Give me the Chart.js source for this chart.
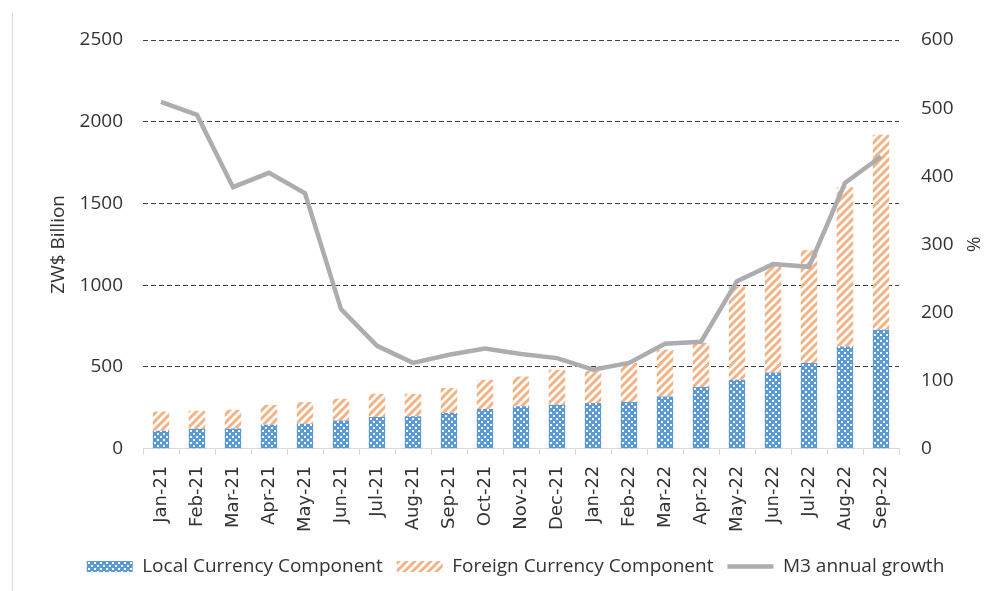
<!DOCTYPE html>
<html>
<head>
<meta charset="utf-8">
<script src="https://cdn.jsdelivr.net/npm/chart.js@4"></script>
<style>
  html, body { margin: 0; padding: 0; background: #fff; }
  #wrap { width: 1007px; height: 591px; position: relative; }
</style>
</head>
<body>
<div id="wrap"><canvas id="grafico"></canvas></div>
<script>
const meses = ['Jan-21', 'Feb-21', 'Mar-21', 'Apr-21', 'May-21', 'Jun-21', 'Jul-21', 'Aug-21', 'Sep-21', 'Oct-21', 'Nov-21', 'Dec-21',
  'Jan-22', 'Feb-22', 'Mar-22', 'Apr-22', 'May-22', 'Jun-22', 'Jul-22', 'Aug-22', 'Sep-22'];
const localCurrency = [110, 122, 124, 147, 153, 173, 194, 198, 218, 243, 259, 269, 279, 285, 320, 377, 422, 466, 524, 625, 727];
const foreignCurrency = [118, 110, 114, 120, 132, 133, 142, 138, 153, 179, 183, 214, 199, 239, 285, 269, 570, 659, 692, 975, 1193];
const m3Growth = [509, 490, 384, 405, 375, 205, 151, 126, 138, 147, 139, 133, 116, 126, 154, 157, 246, 271, 267, 390, 429];
const leftTicks = [0, 500, 1000, 1500, 2000, 2500];
const rightTicks = [0, 100, 200, 300, 400, 500, 600];

const BLUE = '#5B9BD5';
const ORANGE = '#F4B183';
const GREY = '#ADADB1';
const TEXT = '#333333';

// checker pattern for the local component
function padraoXadrez() {
  const c = document.createElement('canvas');
  c.width = 6; c.height = 6;
  const g = c.getContext('2d');
  g.fillStyle = BLUE;
  g.fillRect(0, 0, 6, 6);
  g.fillStyle = '#ffffff';
  g.fillRect(1, 1, 2, 2);
  g.fillRect(4, 4, 2, 2);
  return g.createPattern(c, 'repeat');
}

// diagonal stripes for the foreign component
function padraoListras() {
  const c = document.createElement('canvas');
  c.width = 8; c.height = 8;
  const g = c.getContext('2d');
  g.fillStyle = '#ffffff';
  g.fillRect(0, 0, 8, 8);
  g.strokeStyle = ORANGE;
  g.lineWidth = 3;
  g.beginPath();
  g.moveTo(-2, 10); g.lineTo(10, -2);
  g.moveTo(-6, 6); g.lineTo(6, -6);
  g.moveTo(2, 14); g.lineTo(14, 2);
  g.stroke();
  return g.createPattern(c, 'repeat');
}

const bordaEsquerda = {
  id: 'bordaEsquerda',
  beforeDraw(chart) {
    const ctx = chart.ctx;
    ctx.save();
    ctx.strokeStyle = '#d9d9d9';
    ctx.lineWidth = 1;
    ctx.beginPath();
    ctx.moveTo(12.5, 13);
    ctx.lineTo(12.5, chart.height);
    ctx.stroke();
    ctx.restore();
  }
};

const ctx = document.getElementById('grafico');
new Chart(ctx, {
  type: 'bar',
  data: {
    labels: meses,
    datasets: [
      {
        label: 'Local Currency Component',
        data: localCurrency,
        yAxisID: 'y',
        backgroundColor: padraoXadrez(),
        borderWidth: 0,
        pointStyle: 'rect',
        barPercentage: 0.48,
        categoryPercentage: 0.95,
        order: 1
      },
      {
        label: 'Foreign Currency Component',
        data: foreignCurrency,
        yAxisID: 'y',
        backgroundColor: padraoListras(),
        borderWidth: 0,
        pointStyle: 'rect',
        barPercentage: 0.48,
        categoryPercentage: 0.95,
        order: 1
      },
      {
        type: 'line',
        label: 'M3 annual growth',
        data: m3Growth,
        yAxisID: 'y1',
        borderColor: GREY,
        backgroundColor: GREY,
        borderWidth: 4.5,
        pointRadius: 0,
        pointStyle: 'line',
        tension: 0,
        order: 0
      }
    ]
  },
  options: {
    responsive: true,
    maintainAspectRatio: false,
    animation: false,
    layout: { padding: { left: 43, right: 19, top: 40, bottom: 5 } },
    plugins: {
      legend: {
        position: 'bottom',
        labels: {
          usePointStyle: true,
          pointStyleWidth: 46,
          boxWidth: 46,
          boxHeight: 11,
          padding: 14,
          color: TEXT,
          font: { family: 'Open Sans', size: 19 },
          sort: (a, b) => a.datasetIndex - b.datasetIndex
        }
      },
      tooltip: { enabled: false }
    },
    scales: {
      x: {
        stacked: true,
        offset: true,
        grid: {
          offset: true,
          drawOnChartArea: false,
          drawTicks: true,
          tickLength: 6,
          color: '#d9d9d9'
        },
        border: { color: '#d9d9d9' },
        ticks: {
          maxRotation: 90,
          minRotation: 90,
          padding: 11,
          color: TEXT,
          font: { family: 'DejaVu Sans', size: 18 }
        }
      },
      y: {
        stacked: true,
        position: 'left',
        min: 0,
        max: 2500,
        afterBuildTicks: (axis) => { axis.ticks = leftTicks.map(v => ({ value: v })); },
        afterFit: (axis) => { axis.width = 100; },
        border: { display: false, dash: [5, 3] },
        grid: {
          drawTicks: false,
          color: (c) => c.tick && c.tick.value === 0 ? 'rgba(0,0,0,0)' : '#404040'
        },
        ticks: {
          padding: 20,
          color: TEXT,
          font: { family: 'Open Sans', size: 19 },
          callback: (v) => String(v)
        },
        title: {
          display: true,
          text: 'ZW$ Billion',
          color: TEXT,
          font: { family: 'Open Sans', size: 19 }
        }
      },
      y1: {
        position: 'right',
        min: 0,
        max: 600,
        afterBuildTicks: (axis) => { axis.ticks = rightTicks.map(v => ({ value: v })); },
        afterFit: (axis) => { axis.width = 89; },
        border: { display: false },
        grid: { drawOnChartArea: false, drawTicks: false },
        ticks: {
          padding: 22,
          color: TEXT,
          font: { family: 'Open Sans', size: 19 },
          callback: (v) => String(v)
        },
        title: {
          display: true,
          text: '%',
          color: TEXT,
          font: { family: 'Open Sans', size: 19 }
        }
      }
    }
  },
  plugins: [bordaEsquerda]
});
</script>
</body>
</html>
